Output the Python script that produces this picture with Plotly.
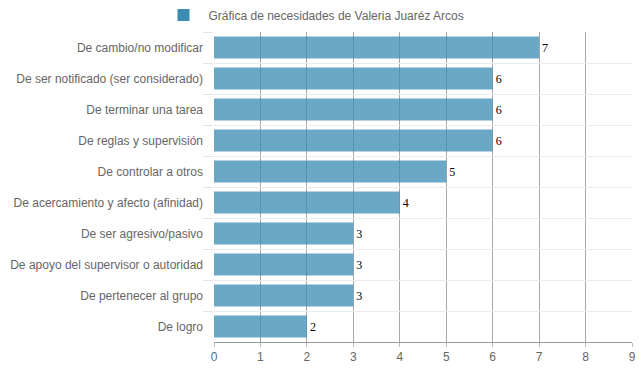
import plotly.graph_objects as go

categories = [
    "De cambio/no modificar",
    "De ser notificado (ser considerado)",
    "De terminar una tarea",
    "De reglas y supervisión",
    "De controlar a otros",
    "De acercamiento y afecto (afinidad)",
    "De ser agresivo/pasivo",
    "De apoyo del supervisor o autoridad",
    "De pertenecer al grupo",
    "De logro",
]
values = [7, 6, 6, 6, 5, 4, 3, 3, 3, 2]
series_name = "Gráfica de necesidades de Valeria Juaréz Arcos"
x_ticks = list(range(0, 10))

fig = go.Figure()
fig.add_trace(go.Bar(
    y=categories,
    x=values,
    orientation="h",
    name=series_name,
    marker=dict(color="rgb(60,140,180)", opacity=0.76, line=dict(width=0)),
    text=[str(v) for v in values],
    textposition="outside",
    textfont=dict(family="Liberation Serif, DejaVu Serif, serif", size=12, color="#000"),
    cliponaxis=False,
    showlegend=True,
))

fig.update_layout(
    width=639, height=372,
    margin=dict(l=214, r=7, t=32, b=30, autoexpand=False),
    plot_bgcolor="white", paper_bgcolor="white",
    bargap=0.29,
    font=dict(family="Liberation Sans, Arial, sans-serif", size=12, color="#666"),
    showlegend=True,
    legend=dict(orientation="h", xref="container", x=314 / 639, xanchor="center",
                yref="container", y=1 - 15 / 372, yanchor="middle",
                font=dict(size=12, color="#666"), itemwidth=40,
                bgcolor="rgba(0,0,0,0)"),
    xaxis=dict(range=[0, 9], tickvals=x_ticks, showgrid=True, gridcolor="#a8a8a8", gridwidth=1,
               zeroline=False, showline=True, linecolor="#999", ticks="outside", ticklen=4,
               tickcolor="#bbb", tickfont=dict(size=12, color="#666"), automargin=False,
               ticklabeloverflow="allow"),
    yaxis=dict(type="category", autorange="reversed", tickson="boundaries", showgrid=True,
               gridcolor="#ebebeb", gridwidth=1, showline=False, ticks="outside", ticklen=10,
               tickcolor="#e4e4e4", ticklabelstandoff=10,
               tickfont=dict(size=12, color="#666"), automargin=False),
)

fig.write_html(
    "out.html",
    config={"displayModeBar": False},
    post_script="document.body.style.margin='0';document.body.style.overflow='hidden';",
)
